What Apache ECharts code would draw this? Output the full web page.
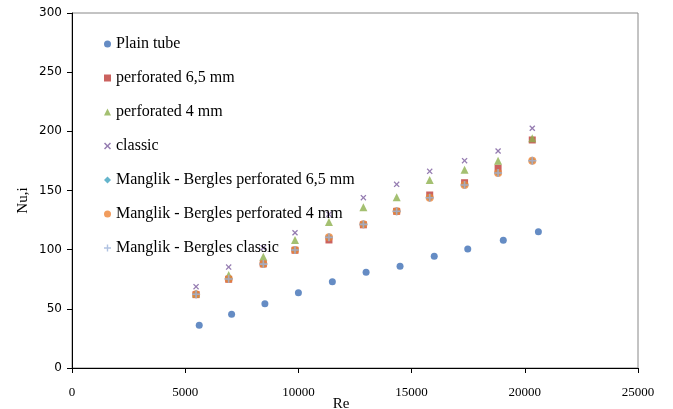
<!DOCTYPE html>
<html>
<head>
<meta charset="utf-8">
<script src="https://cdn.jsdelivr.net/npm/echarts@6/dist/echarts.min.js"></script>
<style>html,body{margin:0;padding:0;background:#fff;overflow:hidden}#c{width:673px;height:409px}</style>
</head>
<body>
<div id="c"></div>
<script>
const seriesNames = ["Plain tube","perforated 6,5 mm","perforated 4 mm","classic","Manglik - Bergles perforated 6,5 mm","Manglik - Bergles perforated 4 mm","Manglik - Bergles classic"];
const rePlain = [5620, 7050, 8520, 10000, 11500, 12990, 14490, 16000, 17480, 19050, 20600];
const nuPlain = [36.1, 45.4, 54.3, 63.6, 72.9, 80.9, 85.9, 94.4, 100.6, 107.9, 115.2];
const rePerf = [5480, 6920, 8450, 9850, 11350, 12870, 14340, 15800, 17340, 18820, 20330];
const nuPerf65 = [62.0, 75.0, 88.0, 99.5, 108.2, 121.0, 132.4, 146.2, 156.6, 168.8, 192.7];
const nuPerf4 = [63.0, 78.6, 94.0, 108.2, 123.4, 135.8, 144.2, 158.9, 167.6, 175.2, 194.1];
const nuClassic = [68.7, 85.3, 101.7, 114.3, 129.9, 143.9, 155.2, 166.2, 175.2, 183.4, 202.6];
const nuMB65 = [62.3, 75.2, 87.8, 99.7, 110.4, 121.4, 132.5, 143.9, 154.6, 164.8, 175.2];
const nuMB4 = [62.3, 75.2, 87.8, 99.7, 110.4, 121.4, 132.5, 143.9, 154.6, 164.8, 175.2];
const nuMBClassic = [62.3, 75.2, 87.8, 99.7, 110.4, 121.4, 132.5, 143.9, 154.6, 164.8, 175.2];
const xTicks = [0, 5000, 10000, 15000, 20000, 25000];
const yTicks = [0, 50, 100, 150, 200, 250, 300];

const pair = (xs, ys) => xs.map((x, i) => [x, ys[i]]);
const X_PATH = 'path://M0,1.5L1.5,0L5,3.5L8.5,0L10,1.5L6.5,5L10,8.5L8.5,10L5,6.5L1.5,10L0,8.5L3.5,5Z';
const PLUS_PATH = 'path://M4,0H6V4H10V6H6V10H4V6H0V4H4Z';

const chart = echarts.init(document.getElementById('c'), null, {renderer: 'canvas'});
const FONT = '"Liberation Serif", "DejaVu Serif", serif';
chart.setOption({
  animation: false,
  backgroundColor: '#fff',
  grid: {left: 72, top: 13, width: 566, height: 355, show: true, borderColor: '#888', borderWidth: 1,
         containLabel: false, outerBoundsMode: 'none'},
  legend: {
    orient: 'vertical', left: 99, top: 31, itemGap: 18, itemWidth: 7, itemHeight: 7,
    textStyle: {fontFamily: FONT, fontSize: 16, color: '#000'},
    data: seriesNames
  },
  xAxis: {
    type: 'value', min: xTicks[0], max: xTicks[xTicks.length-1], interval: 5000,
    name: 'Re', nameLocation: 'middle', nameGap: 29, nameMoveOverlap: false,
    nameTextStyle: {fontFamily: FONT, fontSize: 15, color: '#000', padding: [0, 28, 0, 0]},
    axisLine: {lineStyle: {color: '#000', width: 1}},
    axisTick: {show: true, length: 5, lineStyle: {color: '#000'}},
    axisLabel: {fontFamily: FONT, fontSize: 13, color: '#000', margin: 18, formatter: v => String(v)},
    splitLine: {show: false}
  },
  yAxis: {
    type: 'value', min: yTicks[0], max: yTicks[yTicks.length-1], interval: 50,
    name: 'Nu,i', nameLocation: 'middle', nameGap: 41, nameRotate: 90, nameMoveOverlap: false,
    nameTextStyle: {fontFamily: FONT, fontSize: 15, color: '#000', padding: [0, 0, 0, -20]},
    axisLine: {show: true, lineStyle: {color: '#000', width: 1}},
    axisTick: {show: true, length: 5, lineStyle: {color: '#000'}},
    axisLabel: {fontFamily: '"DejaVu Sans", sans-serif', fontSize: 12, color: '#000', margin: 10, formatter: v => String(v)},
    splitLine: {show: false}
  },
  series: [
    {name: seriesNames[0], type: 'scatter', data: pair(rePlain, nuPlain), symbol: 'circle', symbolSize: 7, itemStyle: {color: '#3F6FB5'}},
    {name: seriesNames[1], type: 'scatter', data: pair(rePerf, nuPerf65), symbol: 'rect', symbolSize: 7, itemStyle: {color: '#BE3B37'}},
    {name: seriesNames[2], type: 'scatter', data: pair(rePerf, nuPerf4), symbol: 'triangle', symbolSize: 8, itemStyle: {color: '#8DB04E'}},
    {name: seriesNames[3], type: 'scatter', data: pair(rePerf, nuClassic), symbol: X_PATH, symbolSize: 6, itemStyle: {color: '#7A5B9E'}},
    {name: seriesNames[4], type: 'scatter', data: pair(rePerf, nuMB65), symbol: 'diamond', symbolSize: 8, itemStyle: {color: '#3FA3BF'}},
    {name: seriesNames[5], type: 'scatter', data: pair(rePerf, nuMB4), symbol: 'circle', symbolSize: 8, itemStyle: {color: '#EE8536'}},
    {name: seriesNames[6], type: 'scatter', data: pair(rePerf, nuMBClassic), symbol: PLUS_PATH, symbolSize: 8, itemStyle: {color: '#9CB3DA'}}
  ]
});
</script>
</body>
</html>
